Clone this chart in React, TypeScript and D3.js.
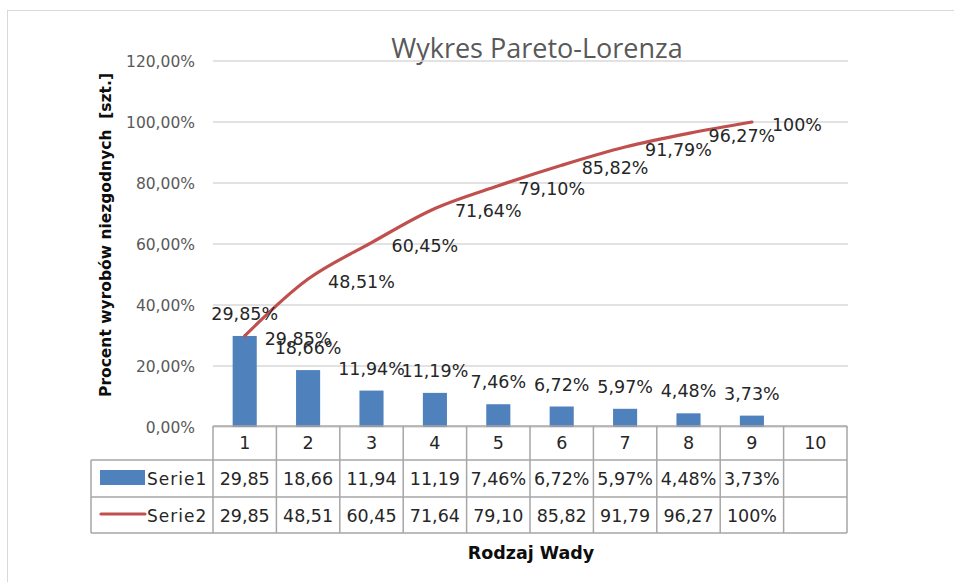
import React from 'react';
import * as d3 from 'd3';

const categories = ['1', '2', '3', '4', '5', '6', '7', '8', '9', '10'];
const serie1 = [29.85, 18.66, 11.94, 11.19, 7.46, 6.72, 5.97, 4.48, 3.73];
const serie2 = [29.85, 48.51, 60.45, 71.64, 79.1, 85.82, 91.79, 96.27, 100];
const yTicks = [0, 20, 40, 60, 80, 100, 120];
const seriesNames = ['Serie1', 'Serie2'];

const fmtPct = (v: number) => (v === 100 ? '100%' : v.toFixed(2).replace('.', ',') + '%');
const fmtTick = (v: number) => v.toFixed(2).replace('.', ',') + '%';

export default function App() {
  const width = 954;
  const height = 582;
  const plot = { left: 213, right: 847, top: 61, bottom: 427 };
  const rowH = [34, 37, 36];
  const tableLeft = 91;

  const x = d3.scaleBand<string>().domain(categories).range([plot.left, plot.right]);
  const y = d3.scaleLinear().domain([0, 120]).range([plot.bottom, plot.top]);
  const bw = x.bandwidth() * 0.38;
  const cx = (i: number) => (x(categories[i]) as number) + x.bandwidth() / 2;

  const line = d3
    .line<number>()
    .x((d, i) => cx(i))
    .y((d) => y(d))
    .curve(d3.curveCatmullRom);

  const r0 = plot.bottom - 1;
  const r1 = r0 + rowH[0];
  const r2 = r1 + rowH[1];
  const r3 = r2 + rowH[2];
  const gridC = '#a6a6a6';
  const txt = '#262626';
  const font = 'DejaVu Sans, sans-serif';

  return (
    <svg
      width={width}
      height={height}
      style={{ position: 'absolute', left: 0, top: 0, background: '#fff' }}
    >
      <rect x={7.5} y={10.5} width={width + 10} height={height + 10} fill="#fff" stroke="#d9d9d9" />

      <text x={537} y={58} textAnchor="middle" fontFamily="Open Sans, sans-serif" fontSize={27} fill="#595959">
        Wykres Pareto-Lorenza
      </text>

      {yTicks.map((t) => (
        <g key={t}>
          <line x1={plot.left} x2={plot.right + 1} y1={y(t)} y2={y(t)} stroke="#d9d9d9" strokeWidth={1.3} />
          <text x={195} y={y(t) + 6} textAnchor="end" fontFamily={font} fontSize={15.5} fill="#595959">
            {fmtTick(t)}
          </text>
        </g>
      ))}

      <text
        transform={`translate(111,235) rotate(-90)`}
        textAnchor="middle"
        fontFamily={font}
        fontWeight="bold"
        fontSize={15.5}
        fill="#0d0d0d"
        style={{ whiteSpace: 'pre' }}
      >
        Procent wyrobów niezgodnych  [szt.]
      </text>

      {serie1.map((v, i) => (
        <rect key={i} x={cx(i) - bw / 2} y={y(v)} width={bw} height={plot.bottom - y(v)} fill="#4F81BD" />
      ))}

      <path d={line(serie2) || ''} fill="none" stroke="#C0504D" strokeWidth={3.2} strokeLinecap="round" />

      {serie1.map((v, i) => (
        <text key={i} x={cx(i)} y={y(v) - 16} textAnchor="middle" fontFamily={font} fontSize={17.5} fill={txt}>
          {fmtPct(v)}
        </text>
      ))}
      {serie2.map((v, i) => (
        <text key={i} x={cx(i) + 20} y={y(v) + 9} fontFamily={font} fontSize={17.5} fill={txt}>
          {fmtPct(v)}
        </text>
      ))}

      {/* data table */}
      <g stroke={gridC} strokeWidth={1.5}>
        <line x1={plot.left} x2={plot.right} y1={r0} y2={r0} />
        <line x1={tableLeft} x2={plot.right} y1={r1} y2={r1} />
        <line x1={tableLeft} x2={plot.right} y1={r2} y2={r2} />
        <line x1={tableLeft} x2={plot.right} y1={r3} y2={r3} />
        <line x1={tableLeft} x2={tableLeft} y1={r1} y2={r3} />
        {categories.map((c) => (
          <line key={c} x1={x(c)} x2={x(c)} y1={r0} y2={r3} />
        ))}
        <line x1={plot.right} x2={plot.right} y1={r0} y2={r3} />
      </g>
      {categories.map((c, i) => (
        <text key={c} x={cx(i)} y={r0 + 23} textAnchor="middle" fontFamily={font} fontSize={17.5} fill={txt}>
          {c}
        </text>
      ))}
      {[serie1, serie2].map((s, si) => (
        <g key={si}>
          {s.map((v, i) => (
            <text
              key={i}
              x={cx(i)}
              y={(si === 0 ? r1 : r2) + 25}
              textAnchor="middle"
              fontFamily={font}
              fontSize={17.5}
              fill={txt}
            >
              {fmtPct(v).slice(0, 5)}
            </text>
          ))}
        </g>
      ))}

      <rect x={100} y={470} width={45} height={15} fill="#4F81BD" />
      <line x1={101} x2={145} y1={514} y2={514} stroke="#C0504D" strokeWidth={3.2} strokeLinecap="round" />
      {seriesNames.map((n, i) => (
        <text
          key={n}
          x={147}
          y={(i === 0 ? r1 : r2) + 25}
          fontFamily={font}
          fontSize={17}
          letterSpacing={1}
          fill={txt}
        >
          {n}
        </text>
      ))}

      <text x={531} y={559} textAnchor="middle" fontFamily={font} fontWeight="bold" fontSize={17.5} fill="#0d0d0d">
        Rodzaj Wady
      </text>
    </svg>
  );
}
